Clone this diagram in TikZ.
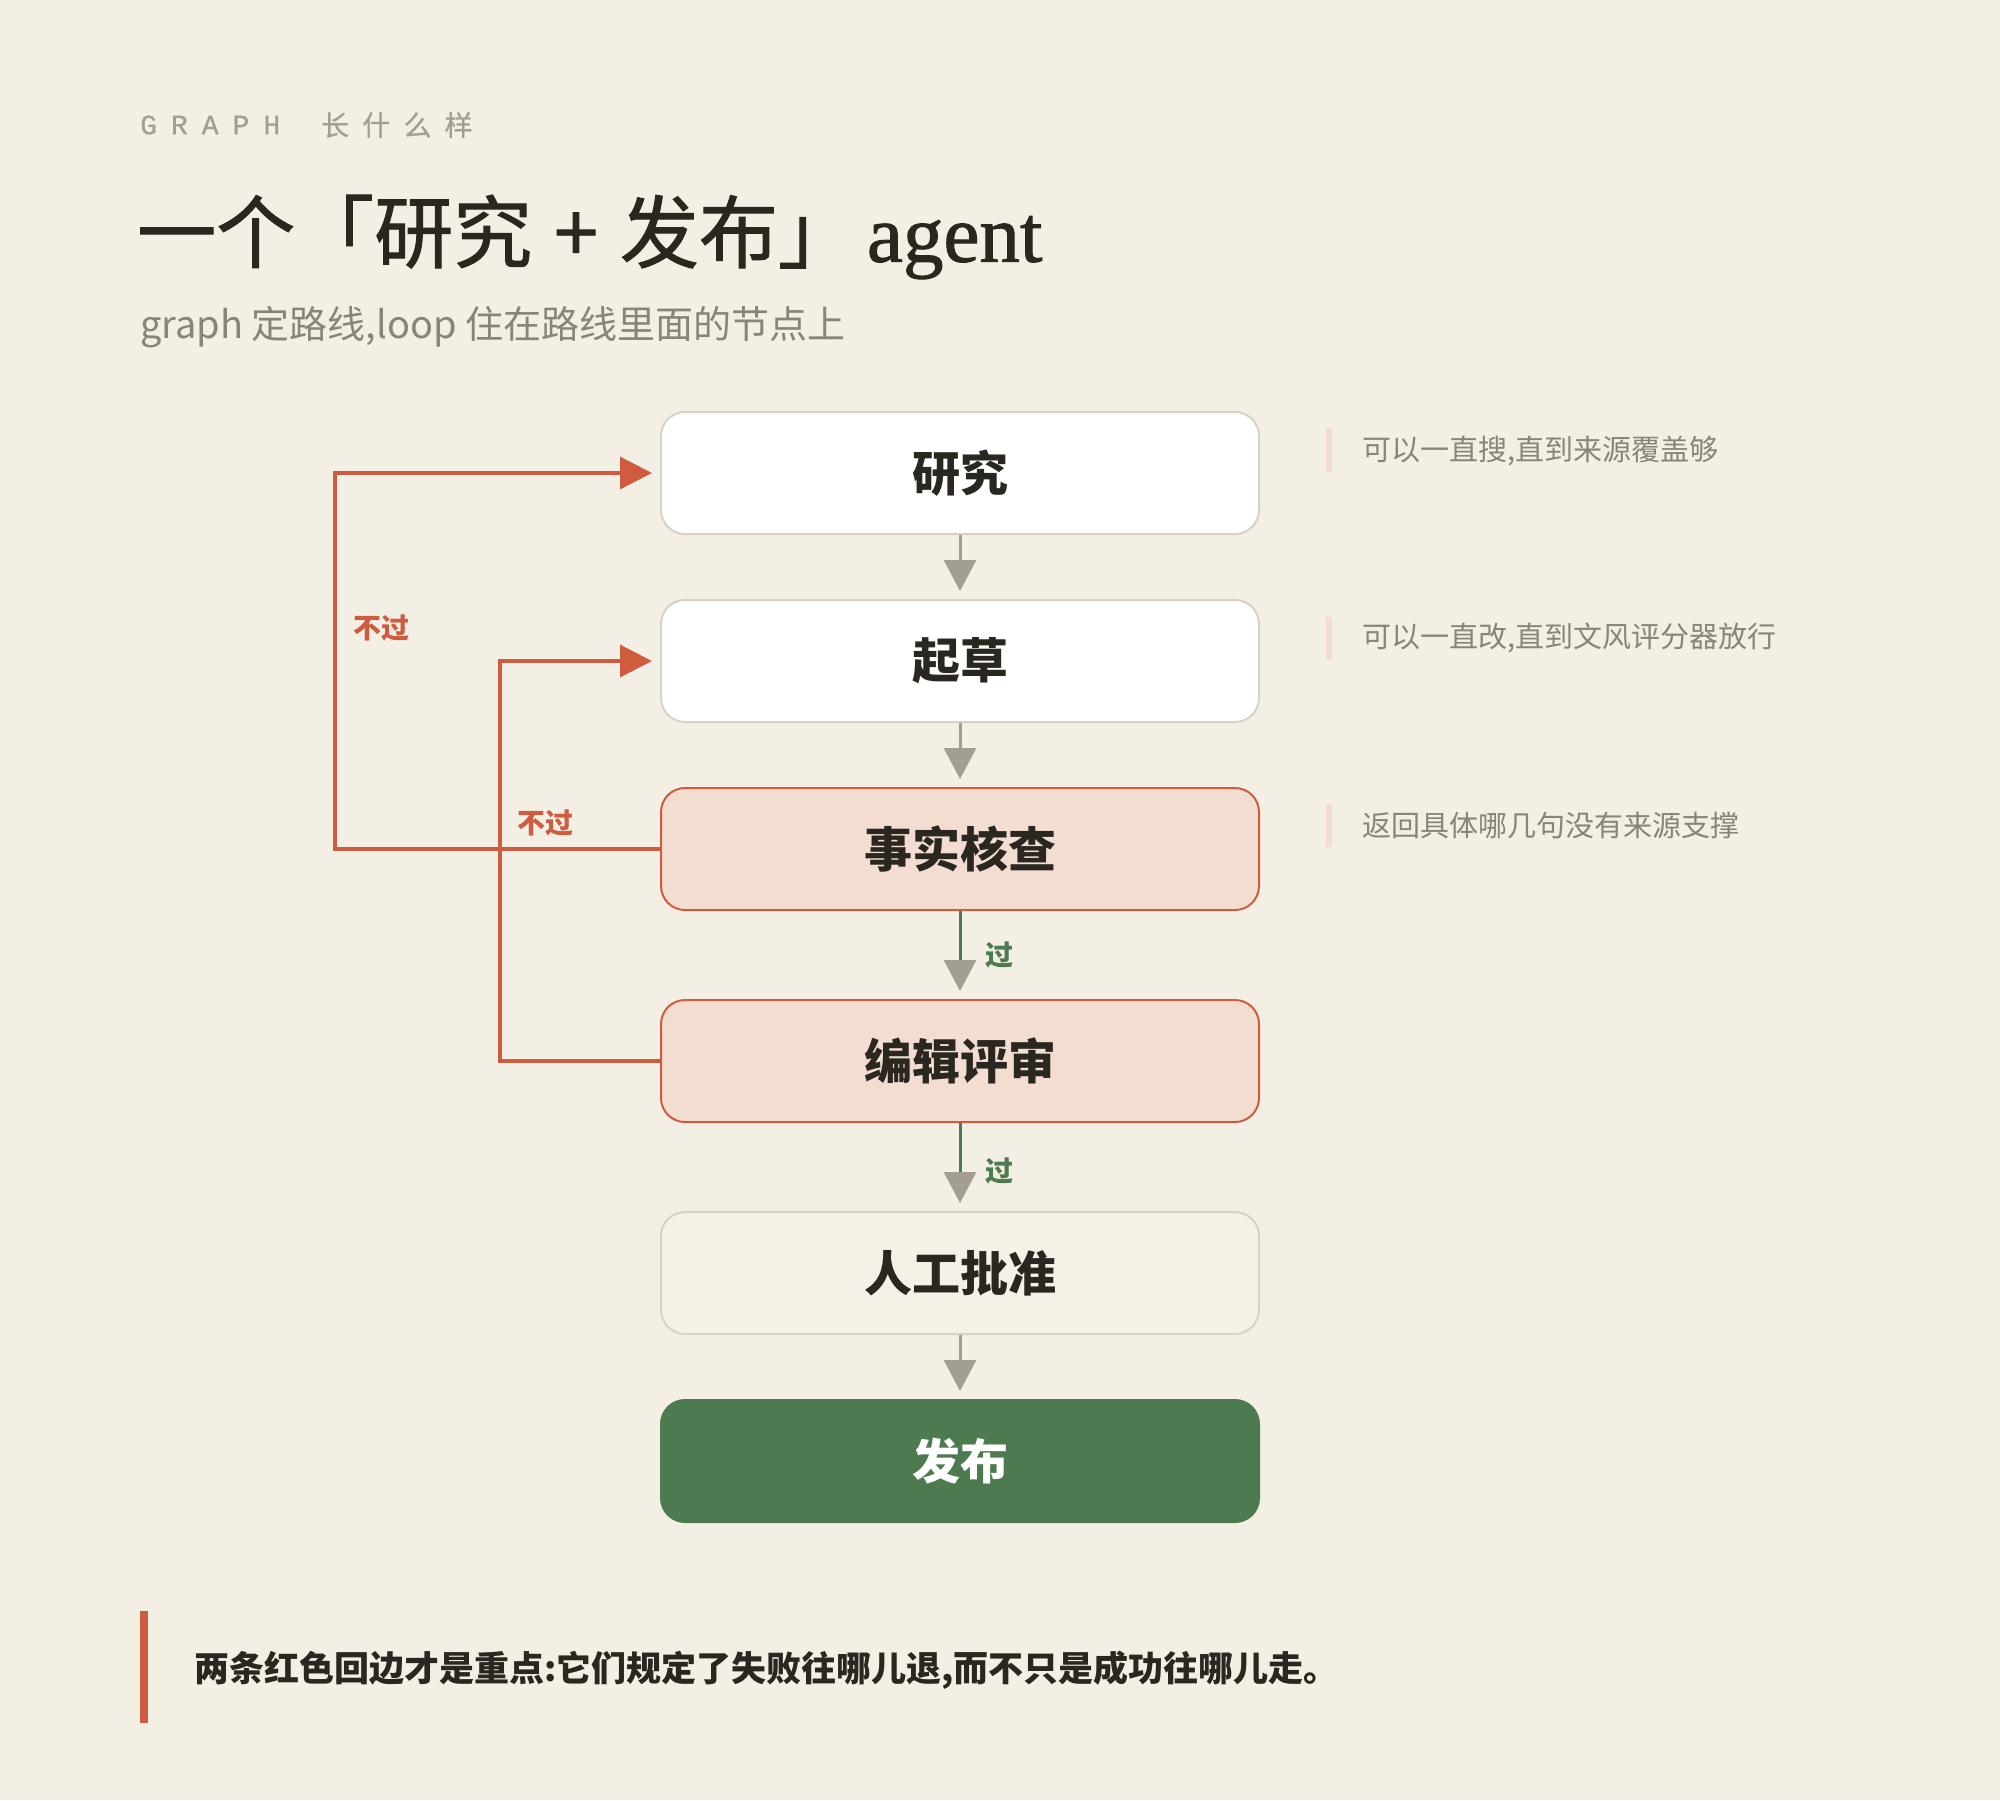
\documentclass[tikz,border=0pt]{standalone}
\usepackage{fontspec}
\setmainfont{Noto Sans CJK SC}
\newfontfamily\cjk{Noto Sans CJK SC}
\newfontfamily\serifen{Liberation Serif}
\newfontfamily\monoen{Liberation Mono}
\usetikzlibrary{arrows.meta}
\definecolor{bg}{HTML}{F3EFE4}
\definecolor{ink}{HTML}{2A2620}
\definecolor{muted}{HTML}{8A8478}
\definecolor{faint}{HTML}{A39D92}
\definecolor{redline}{HTML}{D05C40}
\definecolor{pinkfill}{HTML}{F3DDD1}
\definecolor{pinkbar}{HTML}{F2DCD2}
\definecolor{wborder}{HTML}{D9D1C2}
\definecolor{afill}{HTML}{F5F1E7}
\definecolor{aborder}{HTML}{D9D3C6}
\definecolor{pubgreen}{HTML}{4E7A50}
\definecolor{arrowgray}{HTML}{A39D92}
\tikzset{
  box/.style={draw, rounded corners=24pt, minimum width=598pt, minimum height=122pt,
    inner sep=0pt, line width=2pt, text=ink, font=\cjk\bfseries\fontsize{48}{52}\selectfont},
  plainbox/.style={box, fill=white, draw=wborder},
  checkbox/.style={box, fill=pinkfill, draw=redline},
  approvebox/.style={box, fill=afill, draw=aborder},
  publishbox/.style={box, fill=pubgreen, draw=pubgreen, text=white},
  flow/.style={line width=3pt, draw=arrowgray, -{Triangle[width=32pt,length=31pt]}, shorten >=8pt},
  passflow/.style={line width=3pt, draw=pubgreen, -{Triangle[width=32pt,length=31pt,color=arrowgray]}, shorten >=8pt},
  failflow/.style={line width=3.3pt, draw=redline, -{Triangle[width=32pt,length=32pt]}, shorten >=8pt},
  faillabel/.style={anchor=west, inner sep=0pt, text=redline, font=\cjk\bfseries\fontsize{28}{32}\selectfont},
  passlabel/.style={anchor=west, inner sep=0pt, text=pubgreen, font=\cjk\bfseries\fontsize{28}{32}\selectfont},
  notetext/.style={anchor=west, inner sep=0pt, text=muted, font=\cjk\fontsize{29}{33}\selectfont},
}
\begin{document}
\begin{tikzpicture}[x=1pt,y=-1pt]
\fill[bg] (0,0) rectangle (2000,1800);
\useasboundingbox (0,0) rectangle (2000,1800);

% header
\node[anchor=west, inner sep=0pt, text=faint, font=\monoen\fontsize{28}{30}\selectfont] (kicker) at (140,125) {\addfontfeatures{LetterSpace=50,FakeBold=0.6}GRAPH};
\node[anchor=west, inner sep=0pt, text=faint, font=\cjk\fontsize{28}{30}\selectfont] (kickercn) at (321,125) {\addfontfeatures{LetterSpace=47,FakeBold=0.6}长什么样};
\node[anchor=west, inner sep=0pt, text=ink, font=\cjk\fontsize{79}{84}\selectfont] (title) at (137,237) {\addfontfeatures{FakeBold=1.2}一个「研究\hspace{22pt}+\hspace{22pt}发布」\hspace{10pt}{\serifen\addfontfeatures{FakeBold=1.2}\fontsize{81}{86}\selectfont agent}};
\node[anchor=west, inner sep=0pt, text=muted, font=\cjk\fontsize{38}{41}\selectfont] (subtitle) at (140,327) {graph 定路线,loop 住在路线里面的节点上};

% nodes
\node[plainbox] (research) at (960,473) {研究};
\node[plainbox] (draft) at (960,661) {起草};
\node[checkbox] (fact) at (960,849) {事实核查};
\node[checkbox] (review) at (960,1061) {编辑评审};
\node[approvebox] (approve) at (960,1273) {人工批准};
\node[publishbox] (publish) at (960,1461) {发布};

% forward flow
\draw[flow] (research) -- (draft);
\draw[flow] (draft) -- (fact);
\draw[passflow] (fact) -- (review);
\draw[passflow] (review) -- (approve);
\draw[flow] (approve) -- (publish);
\node[passlabel] (p1) at (985,955) {过};
\node[passlabel] (p2) at (985,1171) {过};

% failure loops
\coordinate (outer) at (335,0);
\coordinate (inner) at (500,0);
\draw[failflow] (fact.west) -- (fact.west -| outer) |- (research.west);
\draw[failflow] (review.west) -- (review.west -| inner) |- (draft.west);
\node[faillabel] (f1) at (353,628) {不过};
\node[faillabel] (f2) at (517,823) {不过};

% notes
\fill[pinkbar] (1326,428) rectangle (1332,472);
\node[notetext] (n1) at (1362,451) {可以一直搜,直到来源覆盖够};
\fill[pinkbar] (1326,617) rectangle (1332,659);
\node[notetext] (n2) at (1362,638) {可以一直改,直到文风评分器放行};
\fill[pinkbar] (1326,805) rectangle (1332,847);
\node[notetext] (n3) at (1362,826) {返回具体哪几句没有来源支撑};

% footer
\fill[redline] (140,1611) rectangle (148,1723);
\node[anchor=west, inner sep=0pt, text=ink, font=\cjk\bfseries\fontsize{35}{38}\selectfont] (footer) at (194,1670) {两条红色回边才是重点:它们规定了失败往哪儿退,而不只是成功往哪儿走。};
\end{tikzpicture}
\end{document}
